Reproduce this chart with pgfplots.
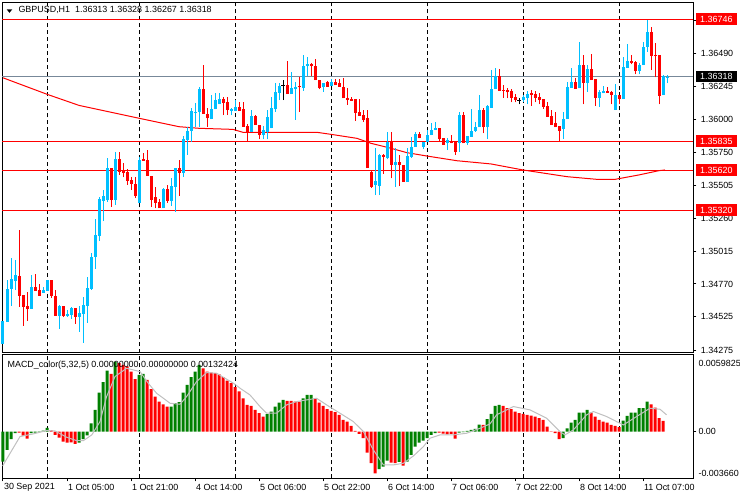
\documentclass[border=0pt]{standalone}
\usepackage{pgfplots}
\usepackage{pgfplotstable}
\pgfplotsset{compat=1.18}
\usepackage{fontspec}
\setmainfont{Liberation Sans}
\definecolor{bull}{RGB}{0,191,255}
\definecolor{bear}{RGB}{255,0,0}
\definecolor{mgreen}{RGB}{0,128,0}
\definecolor{sig}{RGB}{192,192,192}
\definecolor{pgray}{RGB}{119,136,153}
\newcommand\mt{\fontsize{6.7pt}{8pt}\selectfont}

\pgfplotstableread{
i o h l c
0 1.34325 1.34494 1.34325 1.34494
1 1.34489 1.34800 1.34489 1.34733
2 1.34733 1.34962 1.34609 1.34808
3 1.34795 1.34949 1.34726 1.34838
7 1.34586 1.34838 1.34582 1.34748
10 1.34703 1.34748 1.34701 1.34723
11 1.34720 1.34800 1.34720 1.34800
14 1.34534 1.34616 1.34437 1.34606
16 1.34534 1.34576 1.34524 1.34547
17 1.34539 1.34601 1.34507 1.34594
19 1.34526 1.34606 1.34415 1.34552
20 1.34549 1.34676 1.34333 1.34614
21 1.34609 1.34823 1.34482 1.34741
22 1.34733 1.35002 1.34726 1.34972
23 1.34972 1.35255 1.34885 1.35136
24 1.35131 1.35422 1.35093 1.35405
25 1.35390 1.35472 1.35240 1.35427
26 1.35397 1.35708 1.35384 1.35638
28 1.35397 1.35757 1.35360 1.35703
34 1.35377 1.35720 1.35377 1.35695
40 1.35335 1.35489 1.35335 1.35477
42 1.35392 1.35559 1.35355 1.35501
43 1.35496 1.35634 1.35310 1.35634
45 1.35597 1.35877 1.35571 1.35852
46 1.35845 1.35944 1.35733 1.35914
47 1.35912 1.36081 1.35832 1.36061
48 1.36048 1.36118 1.35944 1.36056
49 1.36056 1.36242 1.35944 1.36225
52 1.35999 1.36180 1.35999 1.36074
53 1.36074 1.36193 1.36074 1.36143
54 1.36111 1.36193 1.36111 1.36148
57 1.36063 1.36081 1.36028 1.36074
58 1.36061 1.36143 1.36061 1.36089
62 1.35907 1.36068 1.35907 1.36024
65 1.35882 1.35949 1.35850 1.35919
66 1.35907 1.36068 1.35850 1.36014
67 1.35932 1.36168 1.35932 1.36081
68 1.36074 1.36268 1.36056 1.36205
69 1.36198 1.36272 1.36143 1.36250
72 1.36188 1.36350 1.36188 1.36230
73 1.36223 1.36275 1.35994 1.36242
75 1.36235 1.36479 1.36212 1.36397
76 1.36397 1.36466 1.36322 1.36412
80 1.36238 1.36268 1.36205 1.36268
82 1.36250 1.36300 1.36250 1.36280
93 1.35509 1.35783 1.35434 1.35541
94 1.35504 1.35740 1.35434 1.35733
96 1.35708 1.35907 1.35700 1.35832
98 1.35658 1.35783 1.35496 1.35678
101 1.35534 1.35783 1.35534 1.35725
102 1.35720 1.35865 1.35710 1.35795
103 1.35795 1.35907 1.35795 1.35887
105 1.35795 1.35832 1.35775 1.35832
106 1.35832 1.35919 1.35832 1.35882
107 1.35882 1.35974 1.35882 1.35919
108 1.35919 1.35981 1.35919 1.35932
111 1.35820 1.35857 1.35770 1.35845
114 1.35820 1.36056 1.35757 1.36031
116 1.35820 1.35877 1.35808 1.35877
117 1.35869 1.36076 1.35869 1.35912
118 1.35912 1.35977 1.35905 1.35944
119 1.35939 1.36180 1.35939 1.36068
121 1.35939 1.36106 1.35852 1.36101
122 1.36086 1.36367 1.36086 1.36225
123 1.36225 1.36384 1.36225 1.36322
130 1.36143 1.36180 1.36130 1.36168
131 1.36160 1.36211 1.36111 1.36188
140 1.35927 1.36056 1.35852 1.36001
141 1.36001 1.36275 1.36001 1.36242
142 1.36235 1.36384 1.36235 1.36280
144 1.36230 1.36578 1.36230 1.36404
146 1.36272 1.36404 1.36205 1.36374
149 1.36160 1.36218 1.36093 1.36205
150 1.36193 1.36250 1.36193 1.36211
153 1.36068 1.36260 1.36068 1.36180
155 1.36150 1.36466 1.36150 1.36391
156 1.36384 1.36559 1.36384 1.36434
159 1.36359 1.36421 1.36335 1.36404
160 1.36404 1.36573 1.36404 1.36541
161 1.36538 1.36740 1.36503 1.36653
165 1.36180 1.36329 1.36180 1.36322
166 1.36313 1.36328 1.36267 1.36318
}\bulltab

\pgfplotstableread{
i o h l c
4 1.34830 1.35173 1.34601 1.34683
5 1.34688 1.34688 1.34459 1.34601
6 1.34606 1.34711 1.34497 1.34582
8 1.34748 1.34845 1.34718 1.34718
9 1.34726 1.34770 1.34683 1.34683
12 1.34800 1.34800 1.34664 1.34683
13 1.34681 1.34726 1.34534 1.34534
15 1.34606 1.34606 1.34522 1.34534
18 1.34594 1.34594 1.34472 1.34526
27 1.35638 1.35638 1.35347 1.35397
29 1.35703 1.35757 1.35584 1.35608
30 1.35621 1.35671 1.35566 1.35601
31 1.35606 1.35628 1.35509 1.35541
32 1.35546 1.35571 1.35472 1.35516
33 1.35516 1.35566 1.35410 1.35427
35 1.35703 1.35745 1.35690 1.35690
36 1.35695 1.35770 1.35578 1.35578
37 1.35578 1.35578 1.35347 1.35397
38 1.35422 1.35496 1.35335 1.35377
39 1.35384 1.35402 1.35335 1.35335
41 1.35477 1.35509 1.35377 1.35392
44 1.35634 1.35695 1.35429 1.35597
50 1.36225 1.36404 1.36039 1.36039
51 1.36039 1.36081 1.35944 1.36007
55 1.36148 1.36168 1.36031 1.36123
56 1.36130 1.36163 1.36031 1.36068
59 1.36089 1.36130 1.36061 1.36061
60 1.36074 1.36130 1.35944 1.35944
61 1.35949 1.35964 1.35837 1.35907
63 1.36024 1.36031 1.35957 1.35957
64 1.35957 1.35957 1.35850 1.35882
71 1.36255 1.36434 1.36188 1.36188
74 1.36248 1.36317 1.36056 1.36238
77 1.36412 1.36417 1.36322 1.36397
78 1.36397 1.36447 1.36292 1.36292
79 1.36292 1.36292 1.36223 1.36230
81 1.36280 1.36287 1.36242 1.36242
83 1.36280 1.36297 1.36255 1.36255
84 1.36268 1.36297 1.36242 1.36242
85 1.36242 1.36305 1.36156 1.36156
86 1.36156 1.36230 1.36106 1.36143
87 1.36148 1.36163 1.36135 1.36138
88 1.36148 1.36148 1.35989 1.36048
89 1.36056 1.36148 1.36024 1.36024
90 1.36031 1.36068 1.35979 1.35994
91 1.36007 1.36068 1.35634 1.35634
92 1.35608 1.35621 1.35490 1.35496
95 1.35733 1.35740 1.35591 1.35716
97 1.35837 1.35907 1.35559 1.35658
99 1.35678 1.35733 1.35501 1.35658
100 1.35658 1.35658 1.35534 1.35534
104 1.35887 1.35907 1.35857 1.35857
109 1.35932 1.35932 1.35832 1.35850
110 1.35857 1.35857 1.35808 1.35808
112 1.35839 1.35882 1.35820 1.35820
113 1.35832 1.35832 1.35733 1.35757
115 1.36031 1.36056 1.35820 1.35820
120 1.36068 1.36086 1.35895 1.35939
124 1.36322 1.36374 1.36212 1.36212
125 1.36218 1.36255 1.36160 1.36211
126 1.36218 1.36230 1.36156 1.36201
127 1.36211 1.36225 1.36126 1.36160
128 1.36168 1.36186 1.36126 1.36143
132 1.36198 1.36218 1.36101 1.36180
133 1.36188 1.36211 1.36126 1.36160
134 1.36168 1.36193 1.36111 1.36143
135 1.36150 1.36150 1.36076 1.36093
136 1.36101 1.36126 1.36018 1.36018
137 1.36024 1.36068 1.35957 1.35957
138 1.35974 1.36051 1.35939 1.35939
139 1.35949 1.35949 1.35837 1.35912
143 1.36280 1.36309 1.36225 1.36225
145 1.36404 1.36479 1.36111 1.36272
147 1.36374 1.36484 1.36292 1.36292
148 1.36300 1.36300 1.36101 1.36160
151 1.36211 1.36242 1.36198 1.36198
152 1.36205 1.36211 1.36111 1.36180
154 1.36180 1.36180 1.36111 1.36150
157 1.36434 1.36479 1.36410 1.36421
158 1.36424 1.36434 1.36335 1.36359
162 1.36653 1.36690 1.36367 1.36471
163 1.36479 1.36566 1.36312 1.36471
164 1.36479 1.36479 1.36111 1.36175
}\beartab

\pgfplotstableread{
i o h l c
70 1.36255 1.36292 1.36143 1.36255
129 1.36138 1.36156 1.36111 1.36138
}\dojitab

\pgfplotstableread{
i v
0 -0.00235
1 -0.00144
2 -0.00060
3 -0.00013
7 -0.00013
8 -0.00008
9 -0.00005
10 0.00008
11 0.00029
19 -0.00086
20 -0.00060
21 -0.00029
22 0.00065
23 0.00170
24 0.00306
25 0.00387
26 0.00478
28 0.00549
34 0.00444
35 0.00452
42 0.00196
43 0.00222
44 0.00230
45 0.00306
46 0.00366
47 0.00426
48 0.00470
49 0.00523
66 0.00136
67 0.00157
68 0.00196
69 0.00227
70 0.00248
75 0.00261
76 0.00287
77 0.00287
94 -0.00295
95 -0.00274
96 -0.00227
99 -0.00238
101 -0.00235
102 -0.00183
103 -0.00118
104 -0.00086
105 -0.00071
106 -0.00052
107 -0.00026
108 -0.00013
114 -0.00008
115 -0.00005
116 0.00005
117 0.00013
118 0.00021
119 0.00055
121 0.00097
122 0.00138
123 0.00201
124 0.00209
140 -0.00052
141 0.00026
142 0.00071
143 0.00091
144 0.00149
145 0.00149
146 0.00170
155 0.00086
156 0.00123
157 0.00149
158 0.00149
159 0.00183
160 0.00183
161 0.00235
}\greentab

\pgfplotstableread{
i v
4 -0.00008
5 -0.00031
6 -0.00055
12 0.00010
13 -0.00026
14 -0.00047
15 -0.00078
16 -0.00086
17 -0.00084
18 -0.00097
27 0.00452
29 0.00536
30 0.00523
31 0.00510
32 0.00470
33 0.00410
36 0.00405
37 0.00332
38 0.00274
39 0.00235
40 0.00214
41 0.00196
50 0.00496
51 0.00470
52 0.00462
53 0.00457
54 0.00449
55 0.00426
56 0.00400
57 0.00379
58 0.00348
59 0.00314
60 0.00261
61 0.00209
62 0.00201
63 0.00170
64 0.00144
65 0.00118
71 0.00240
72 0.00240
73 0.00235
74 0.00235
78 0.00256
79 0.00227
80 0.00201
81 0.00175
82 0.00162
83 0.00152
84 0.00131
85 0.00091
86 0.00078
87 0.00044
88 0.00005
89 -0.00018
90 -0.00052
91 -0.00165
92 -0.00248
93 -0.00327
97 -0.00243
98 -0.00248
100 -0.00267
109 -0.00008
110 -0.00016
111 -0.00021
112 -0.00018
113 -0.00055
120 0.00052
125 0.00201
126 0.00183
127 0.00175
128 0.00157
129 0.00144
130 0.00138
131 0.00131
132 0.00125
133 0.00118
134 0.00105
135 0.00091
136 0.00039
137 -0.00003
138 -0.00013
139 -0.00060
147 0.00149
148 0.00118
149 0.00091
150 0.00078
151 0.00071
152 0.00052
153 0.00044
154 0.00034
162 0.00214
163 0.00188
164 0.00105
165 0.00084
}\redtab

\pgfplotsset{candle/.style={draw=none, mark=none, forget plot,
  error bars/.cd, y dir=plus, y explicit, error mark=none}}

\begin{document}
\begin{tikzpicture}
\useasboundingbox (0,0) rectangle (555pt,375pt);
% ---------------- main price panel ----------------
\begin{axis}[
  at={(1.875pt,110.25pt)}, anchor=south west,
  scale only axis, width=518.1pt, height=262.875pt,
  xmin=-0.125, xmax=172.575, ymin=1.34255, ymax=1.36871,
  clip=false,
  axis line style={black, line width=0.75pt},
  xtick=\empty,
  ytick={1.36735,1.36490,1.36245,1.36000,1.35750,1.35505,1.35260,1.35015,1.34770,1.34525,1.34275},
  yticklabels={},
  ytick pos=right, tick align=outside, major tick length=2.25pt,
  tick style={black, line width=0.75pt},
]
% day separators
\foreach \d in {11,34,58,82,106,130,154}{
  \edef\tmp{\noexpand\addplot[black, line width=0.75pt, dash pattern=on 3pt off 2.2pt, forget plot] coordinates {(\d,1.34255) (\d,1.36871)};}
  \tmp
}
% horizontal levels
\addplot[bear, line width=0.75pt] coordinates {(-0.125,1.36746) (172.575,1.36746)};
\addplot[bear, line width=0.75pt] coordinates {(-0.125,1.35835) (172.575,1.35835)};
\addplot[bear, line width=0.75pt] coordinates {(-0.125,1.35620) (172.575,1.35620)};
\addplot[bear, line width=0.75pt] coordinates {(-0.125,1.35320) (172.575,1.35320)};
\addplot[pgray, line width=0.75pt] coordinates {(-0.125,1.36318) (172.575,1.36318)};
% moving average
\addplot[bear, line width=0.75pt] coordinates {
(0,1.36309) (11,1.36186) (19,1.36103) (34,1.36007) (44,1.35944) (49,1.35932)
(57.5,1.35924) (60,1.35902) (78.5,1.35902) (82,1.35887) (88.5,1.35857) (92,1.35820)
(97,1.35783) (101,1.35750) (106,1.35725) (113.5,1.35690) (122,1.35666) (130,1.35621)
(135.5,1.35596) (141,1.35571) (148.5,1.35551) (153,1.35551) (159,1.35584) (164,1.35616) (165.5,1.35621)};
% wicks
\addplot[candle, error bar style={draw=bull, line width=0.75pt}]
  table[x=i, y=l, y error plus expr=\thisrow{h}-\thisrow{l}] {\bulltab};
\addplot[candle, error bar style={draw=bear, line width=0.75pt}]
  table[x=i, y=l, y error plus expr=\thisrow{h}-\thisrow{l}] {\beartab};
\addplot[candle, error bar style={draw=black, line width=0.75pt}]
  table[x=i, y=l, y error plus expr=\thisrow{h}-\thisrow{l}] {\dojitab};
% bodies
\addplot[candle, error bar style={draw=bull, line width=2.25pt}]
  table[x=i, y=o, y error plus expr=\thisrow{c}-\thisrow{o}] {\bulltab};
\addplot[candle, error bar style={draw=bear, line width=2.25pt}]
  table[x=i, y=c, y error plus expr=\thisrow{o}-\thisrow{c}] {\beartab};
\addplot[only marks, mark=-, mark size=1.2pt, mark options={black, line width=0.75pt}]
  table[x=i, y=o] {\dojitab};
% price scale labels
\foreach \p in {1.36490,1.36245,1.36000,1.35750,1.35505,1.35260,1.35015,1.34770,1.34525,1.34275}{
  \edef\tmp{\noexpand\node[anchor=west, inner sep=0pt, font=\noexpand\mt, xshift=5.5pt] at (axis cs:172.575,\p) {\p};}
  \tmp
}
\node[anchor=west, fill=bear, text=white, inner xsep=3pt, inner ysep=0pt, minimum height=8.8pt, font=\mt, xshift=2pt] at (axis cs:172.575,1.36746) {1.36746};
\node[anchor=west, fill=black, text=white, inner xsep=3pt, inner ysep=0pt, minimum height=8pt, font=\mt, xshift=2pt] at (axis cs:172.575,1.36318) {1.36318};
\node[anchor=west, fill=bear, text=white, inner xsep=3pt, inner ysep=0pt, minimum height=8.8pt, font=\mt, xshift=2pt] at (axis cs:172.575,1.35835) {1.35835};
\node[anchor=west, fill=bear, text=white, inner xsep=3pt, inner ysep=0pt, minimum height=8.8pt, font=\mt, xshift=2pt] at (axis cs:172.575,1.35620) {1.35620};
\node[anchor=west, fill=bear, text=white, inner xsep=3pt, inner ysep=0pt, minimum height=8.8pt, font=\mt, xshift=2pt] at (axis cs:172.575,1.35320) {1.35320};
\end{axis}

% ---------------- MACD panel ----------------
\begin{axis}[
  at={(1.875pt,16.275pt)}, anchor=south west,
  scale only axis, width=518.1pt, height=92.475pt,
  xmin=-0.125, xmax=172.575, ymin=-0.00366, ymax=0.00600,
  clip=false,
  axis line style={black, line width=0.75pt},
  xtick={0,16,32,48,64,80,96,112,128,144,160}, xticklabels={},
  xtick pos=bottom,
  ytick={0}, yticklabels={}, ytick pos=right,
  tick align=outside, major tick length=2.25pt,
  tick style={black, line width=0.75pt},
  scaled y ticks=false,
]
\foreach \d in {11,34,58,82,106,130,154}{
  \edef\tmp{\noexpand\addplot[black, line width=0.75pt, dash pattern=on 3pt off 2.2pt, forget plot] coordinates {(\d,-0.00366) (\d,0.00600)};}
  \tmp
}
\addplot[ybar, bar width=2.25pt, bar shift=0pt, fill=mgreen, draw=none] table[x=i, y=v] {\greentab};
\addplot[ybar, bar width=2.25pt, bar shift=0pt, fill=bear, draw=none] table[x=i, y=v] {\redtab};
\addplot[sig, line width=0.75pt] coordinates {
(-0.1,-0.00269) (4.25,-0.00039) (7.6,-0.00018) (10.9,0.00008) (13,0.00005) (15.9,-0.00044)
(18.4,-0.00071) (20.1,-0.00071) (22.2,-0.00026) (24.25,0.00078) (25.9,0.00274) (28,0.00431)
(30.9,0.00496) (34.25,0.00470) (36.3,0.00379) (38.4,0.00300) (40.1,0.00261) (41.75,0.00222)
(44.25,0.00214) (45.9,0.00274) (48.4,0.00392) (50.9,0.00462) (53.4,0.00457) (57.6,0.00379)
(59.25,0.00340) (61.75,0.00287) (64.25,0.00196) (65.9,0.00144) (68.4,0.00144) (70.9,0.00209)
(73.4,0.00235) (75.9,0.00248) (78.4,0.00261) (80.9,0.00209) (84.25,0.00144) (87.6,0.00078)
(90.1,0) (92.6,-0.00144) (95.1,-0.00261) (97.6,-0.00261) (100.1,-0.00248) (102.6,-0.00191)
(105.1,-0.00118) (106.75,-0.00052) (109.25,-0.00026) (112.6,-0.00026) (115.9,-0.00013)
(119.25,0.00026) (121.75,0.00060) (123.4,0.00131) (127.6,0.00196) (131.75,0.00170)
(135.9,0.00105) (139.25,0) (140.5,-0.00026) (142.6,0.00013) (145.9,0.00131) (147.6,0.00157)
(150.9,0.00118) (153.4,0.00078) (155.1,0.00052) (158.4,0.00118) (161.75,0.00183)
(164.25,0.00175) (165.9,0.00131)};
\end{axis}

% ---------------- texts ----------------
\fill[black] (5.0pt,368.0pt) -- (9.2pt,368.0pt) -- (7.1pt,365.4pt) -- cycle;
\node[anchor=west, inner sep=0pt, font=\mt] at (13.7pt,367.3pt) {GBPUSD,H1\ \ 1.36313 1.36328 1.36267 1.36318};
\node[anchor=west, inner sep=0pt, font=\mt] at (5.5pt,101.25pt) {MACD\_color(5,32,5) 0.00000000 0.00000000 0.00132424};
% MACD scale
\node[anchor=west, inner sep=0pt, font=\mt] at (523.7pt,102.75pt) {0.0059825};
\node[anchor=west, inner sep=0pt, font=\mt] at (523.7pt,51.2pt) {0.00};
\node[anchor=west, inner sep=0pt, font=\mt] at (523.7pt,20.0pt) {-0.003660};
% time labels
\foreach \xx/\t in {3/30 Sep 2021, 67/1 Oct 05:00, 131/1 Oct 21:00, 195/4 Oct 14:00, 259/5 Oct 06:00, 323/5 Oct 22:00, 387/6 Oct 14:00, 451/7 Oct 06:00, 515/7 Oct 22:00, 579/8 Oct 14:00, 643/11 Oct 07:00}{
  \node[anchor=west, inner sep=0pt, font=\mt] at (\xx*0.75pt+0.6pt,9.2pt) {\t};
}
\end{tikzpicture}
\end{document}
